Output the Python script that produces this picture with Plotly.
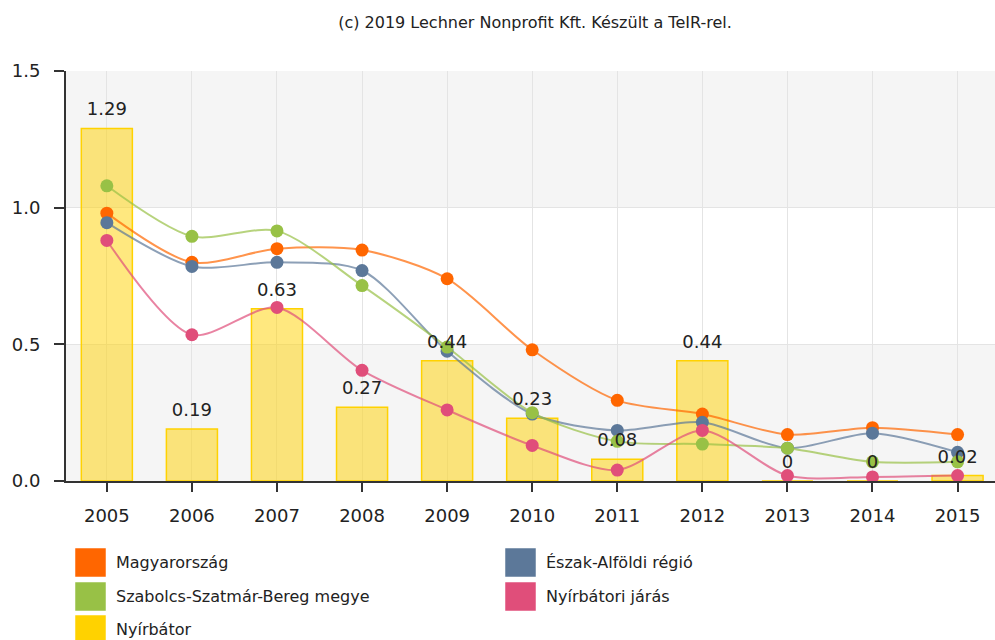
import plotly.graph_objects as go

years = [2005, 2006, 2007, 2008, 2009, 2010, 2011, 2012, 2013, 2014, 2015]
year_labels = [str(y) for y in years]

magyarorszag = [0.98, 0.80, 0.85, 0.845, 0.74, 0.48, 0.295, 0.245, 0.17, 0.195, 0.17]
eszak_alfold = [0.945, 0.785, 0.80, 0.77, 0.475, 0.245, 0.185, 0.215, 0.12, 0.175, 0.105]
szabolcs = [1.08, 0.895, 0.915, 0.715, 0.49, 0.25, 0.145, 0.135, 0.12, 0.07, 0.07]
nyirbatori_jaras = [0.88, 0.535, 0.635, 0.405, 0.26, 0.13, 0.04, 0.185, 0.02, 0.015, 0.02]
nyirbator = [1.29, 0.19, 0.63, 0.27, 0.44, 0.23, 0.08, 0.44, 0, 0, 0.02]
bar_labels = ["1.29", "0.19", "0.63", "0.27", "0.44", "0.23", "0.08", "0.44", "0", "0", "0.02"]

names = ["Magyarország", "Észak-Alföldi régió", "Szabolcs-Szatmár-Bereg megye",
         "Nyírbátori járás", "Nyírbátor"]
colors = ["#ff6600", "#5c7899", "#98c146", "#e04e7a", "#ffd200"]
line_colors = ["rgba(255,102,0,0.7)", "rgba(92,120,153,0.7)", "rgba(152,193,70,0.7)",
               "rgba(224,78,122,0.7)"]
title_text = "(c) 2019 Lechner Nonprofit Kft. Készült a TeIR-rel."

FONT = "DejaVu Sans"
W, H = 995, 640
ML, MR, MT, MB = 66, 0, 71, 159
PW, PH = W - ML - MR, H - MT - MB

fig = go.Figure()

fig.add_trace(go.Bar(
    x=years, y=nyirbator, name=names[4], width=0.6,
    marker=dict(color="rgba(255,210,0,0.5)", line=dict(color="#ffd200", width=1.5)),
    showlegend=False,
))

series = [magyarorszag, eszak_alfold, szabolcs, nyirbatori_jaras]
for i in range(4):
    fig.add_trace(go.Scatter(
        x=years, y=series[i], name=names[i], mode="lines+markers",
        line=dict(color=line_colors[i], width=2, shape="spline", smoothing=0.8),
        marker=dict(color=colors[i], size=13),
        showlegend=False,
    ))

fig.add_trace(go.Scatter(
    x=years, y=nyirbator, text=bar_labels, mode="markers+text",
    textposition="top center",
    marker=dict(size=12, opacity=0),
    textfont=dict(family=FONT, size=18, color="#222222"),
    hoverinfo="skip", showlegend=False,
))

shapes = [
    dict(type="rect", xref="paper", yref="y", x0=0, x1=1, y0=0, y1=0.5,
         fillcolor="#f5f5f5", line=dict(width=0), layer="below"),
    dict(type="rect", xref="paper", yref="y", x0=0, x1=1, y0=1.0, y1=1.5,
         fillcolor="#f5f5f5", line=dict(width=0), layer="below"),
]
annotations = []

# custom legend (two columns, row-major)
col_px = [75, 505]
row_px = [548, 582, 615]
sq_w, sq_h = 31, 29
for k, (nm, col) in enumerate(zip(names, colors)):
    r, c = divmod(k, 2)
    x0 = (col_px[c] - ML) / PW
    x1 = (col_px[c] + sq_w - ML) / PW
    y0 = (H - MB - row_px[r]) / PH
    y1 = (H - MB - row_px[r] - sq_h) / PH
    shapes.append(dict(type="rect", xref="paper", yref="paper", x0=x0, x1=x1, y0=y1, y1=y0,
                       fillcolor=col, line=dict(color="rgba(255,255,255,0.5)", width=1)))
    annotations.append(dict(
        xref="paper", yref="paper",
        x=(col_px[c] + sq_w + 8 - ML) / PW,
        y=(H - MB - row_px[r] - sq_h / 2) / PH,
        text=nm, showarrow=False, xanchor="left", yanchor="middle",
        font=dict(family=FONT, size=16, color="#222222"),
    ))

fig.update_layout(
    width=W, height=H,
    margin=dict(l=ML, r=MR, t=MT, b=MB, pad=0),
    paper_bgcolor="white", plot_bgcolor="white",
    title=dict(text=title_text, x=535 / W, xref="container", xanchor="center",
               y=1 - 22 / H, yref="container", yanchor="middle",
               font=dict(family=FONT, size=16, color="#222222")),
    font=dict(family=FONT, color="#333333"),
    shapes=shapes, annotations=annotations,
    xaxis=dict(range=[2004.52, 2015.44], tickvals=years, ticktext=year_labels,
               showgrid=True, gridcolor="#e4e4e4", gridwidth=1,
               ticks="outside", ticklen=9, tickwidth=1.5, tickcolor="#333333",
               showline=True, linecolor="#333333", linewidth=2, zeroline=False,
               tickfont=dict(family=FONT, size=18, color="#222222"),
               ticklabelstandoff=8),
    yaxis=dict(range=[0, 1.5], dtick=0.5, tick0=0, tickformat=".1f",
               showgrid=True, gridcolor="#e4e4e4", gridwidth=1,
               ticks="outside", ticklen=10, tickwidth=1.5, tickcolor="#333333",
               showline=True, linecolor="#333333", linewidth=2, zeroline=False,
               tickfont=dict(family=FONT, size=18, color="#222222"),
               ticklabelstandoff=10),
)

fig.write_html("out.html", config={"displayModeBar": False},
               post_script="document.body.style.margin='0';")
